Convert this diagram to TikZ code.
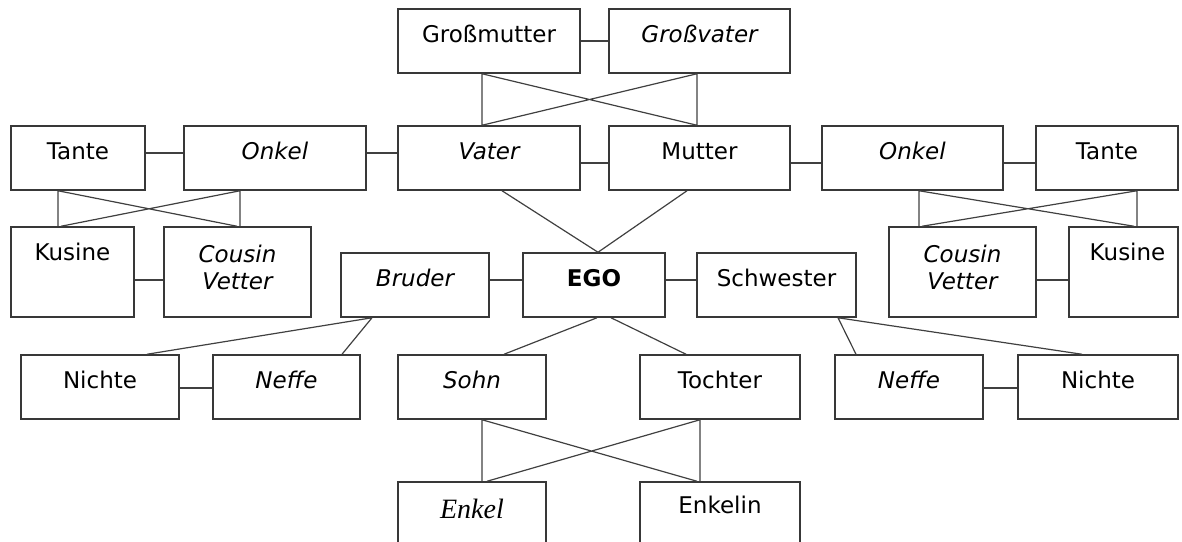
\documentclass[tikz,border=0pt]{standalone}
\usepackage{fontspec}
\newfontfamily\kinfont{DejaVu Sans}
\newfontfamily\enkelfont{Liberation Serif}

\tikzset{
  kinbox/.style={draw=black!78, line width=0.75pt, inner sep=0pt},
  kinlabel/.style={font=\kinfont\fontsize{11.5}{13.5}\selectfont, anchor=base,
    inner sep=0pt, text=black, yshift=-17.2pt},
  kinlink/.style={draw=black!75, line width=0.6pt},
}

% box from corner (x1,y1) to corner (x2,y2), in pixel-like units
\newcommand\kinbox[5]{%
  \node[kinbox, minimum width={(#4-#2)*0.5pt}, minimum height={(#5-#3)*0.5pt}]
    (#1) at ({(#2+#4)/2},{(#3+#5)/2}) {};}
% text of a box, set on a baseline below the box top
\newcommand\kinlabel[3][]{%
  \node[kinlabel,#1] (#2-t) at (#2.north) {#3};}

\begin{document}
\begin{tikzpicture}[x=0.5pt, y=-0.5pt]
\clip (0,0) rectangle (1182,541);

% grandparents
\kinbox{gm}{398}{9}{580}{73}
\kinbox{gv}{609}{9}{790}{73}
% parents' generation
\kinbox{tanteL}{11}{126}{145}{190}
\kinbox{onkelL}{184}{126}{366}{190}
\kinbox{vater}{398}{126}{580}{190}
\kinbox{mutter}{609}{126}{790}{190}
\kinbox{onkelR}{822}{126}{1003}{190}
\kinbox{tanteR}{1036}{126}{1178}{190}
% cousins
\kinbox{kusineL}{11}{227}{134}{317}
\kinbox{cousinL}{164}{227}{311}{317}
\kinbox{cousinR}{889}{227}{1036}{317}
\kinbox{kusineR}{1069}{227}{1178}{317}
% siblings
\kinbox{bruder}{341}{253}{489}{317}
\kinbox{ego}{523}{253}{665}{317}
\kinbox{schwester}{697}{253}{856}{317}
% nieces, nephews, children
\kinbox{nichteL}{21}{355}{179}{419}
\kinbox{neffeL}{213}{355}{360}{419}
\kinbox{sohn}{398}{355}{546}{419}
\kinbox{tochter}{640}{355}{800}{419}
\kinbox{neffeR}{835}{355}{983}{419}
\kinbox{nichteR}{1018}{355}{1178}{419}
% grandchildren
\kinbox{enkel}{398}{482}{546}{575}
\kinbox{enkelin}{640}{482}{800}{575}

\kinlabel{gm}{Großmutter}
\kinlabel{gv}{\itshape Großvater}
\kinlabel{tanteL}{Tante}
\kinlabel{onkelL}{\itshape Onkel}
\kinlabel{vater}{\itshape Vater}
\kinlabel{mutter}{Mutter}
\kinlabel{onkelR}{\itshape Onkel}
\kinlabel{tanteR}{Tante}
\kinlabel{kusineL}{Kusine}
\kinlabel[yshift=-1pt]{cousinL}{\itshape\begin{tabular}[t]{@{}c@{}}Cousin\\Vetter\end{tabular}}
\kinlabel[yshift=-1pt]{cousinR}{\itshape\begin{tabular}[t]{@{}c@{}}Cousin\\Vetter\end{tabular}}
\kinlabel[xshift=2pt]{kusineR}{Kusine}
\kinlabel{bruder}{\itshape Bruder}
\kinlabel{ego}{\bfseries EGO}
\kinlabel{schwester}{Schwester}
\kinlabel{nichteL}{Nichte}
\kinlabel{neffeL}{\itshape Neffe}
\kinlabel{sohn}{\itshape Sohn}
\kinlabel{tochter}{Tochter}
\kinlabel{neffeR}{\itshape Neffe}
\kinlabel{nichteR}{Nichte}
\kinlabel[yshift=-1.5pt, font=\enkelfont\itshape\fontsize{14}{16}\selectfont]{enkel}{Enkel}
\kinlabel[yshift=1pt]{enkelin}{Enkelin}

% couples and siblings side by side
\draw[kinlink] (gm) -- (gv);
\draw[kinlink] (tanteL.east |- 0,153) -- (onkelL.west |- 0,153);
\draw[kinlink] (onkelL.east |- 0,153) -- (vater.west |- 0,153);
\draw[kinlink] (vater.east |- 0,163) -- (mutter.west |- 0,163);
\draw[kinlink] (mutter.east |- 0,163) -- (onkelR.west |- 0,163);
\draw[kinlink] (onkelR.east |- 0,163) -- (tanteR.west |- 0,163);
\draw[kinlink] (kusineL.east |- 0,280) -- (cousinL.west |- 0,280);
\draw[kinlink] (cousinR.east |- 0,280) -- (kusineR.west |- 0,280);
\draw[kinlink] (bruder.east |- 0,280) -- (ego.west |- 0,280);
\draw[kinlink] (ego.east |- 0,280) -- (schwester.west |- 0,280);
\draw[kinlink] (nichteL.east |- 0,388) -- (neffeL.west |- 0,388);
\draw[kinlink] (neffeR.east |- 0,388) -- (nichteR.west |- 0,388);

% crossed descent lines
\draw[kinlink] (gm.south -| 482,0) -- (vater.north -| 482,0)
               (gv.south -| 697,0) -- (mutter.north -| 697,0)
               (gm.south -| 482,0) -- (mutter.north -| 697,0)
               (gv.south -| 697,0) -- (vater.north -| 482,0);
\draw[kinlink] (tanteL.south -| 58,0) -- (kusineL.north -| 58,0)
               (onkelL.south -| 240,0) -- (cousinL.north -| 240,0)
               (tanteL.south -| 58,0) -- (cousinL.north -| 237,0)
               (onkelL.south -| 240,0) -- (kusineL.north -| 61,0);
\draw[kinlink] (onkelR.south -| 919,0) -- (cousinR.north -| 919,0)
               (tanteR.south -| 1137,0) -- (kusineR.north -| 1137,0)
               (onkelR.south -| 919,0) -- (kusineR.north -| 1134,0)
               (tanteR.south -| 1137,0) -- (cousinR.north -| 922,0);
\draw[kinlink] (sohn.south -| 482,0) -- (enkel.north -| 482,0)
               (tochter.south -| 700,0) -- (enkelin.north -| 700,0)
               (sohn.south -| 482,0) -- (enkelin.north -| 697,0)
               (tochter.south -| 700,0) -- (enkel.north -| 487,0);

% parents to EGO, EGO to children
\draw[kinlink] (vater.south -| 502,0) -- (ego.north -| 598,0)
               (mutter.south -| 687,0) -- (ego.north -| 598,0);
\draw[kinlink] (ego.south -| 597,0) -- (sohn.north -| 504,0)
               (ego.south -| 611,0) -- (tochter.north -| 686,0);
% siblings to their children
\draw[kinlink] (bruder.south -| 372,0) -- (nichteL.north -| 147,0)
               (bruder.south -| 372,0) -- (neffeL.north -| 342,0);
\draw[kinlink] (schwester.south -| 838,0) -- (neffeR.north -| 856,0)
               (schwester.south -| 838,0) -- (nichteR.north -| 1082,0);
\end{tikzpicture}
\end{document}
